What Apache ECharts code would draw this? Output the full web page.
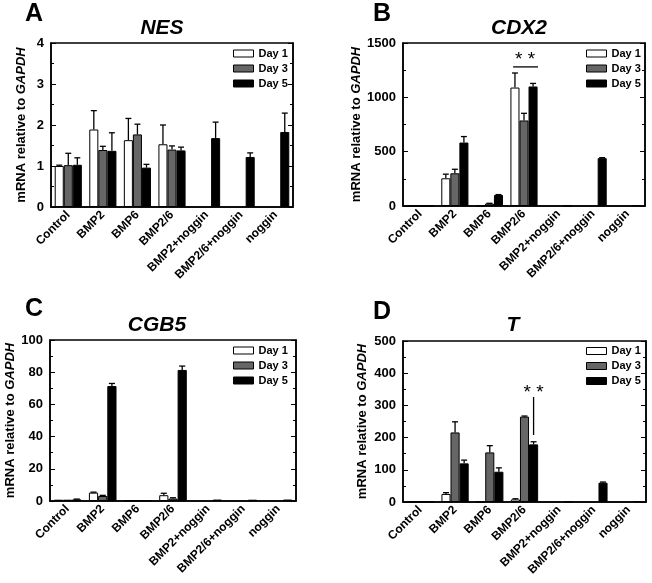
<!DOCTYPE html>
<html><head><meta charset="utf-8">
<script src="https://cdn.jsdelivr.net/npm/echarts@6/dist/echarts.min.js"></script>
<style>html,body{margin:0;padding:0;background:#fff}#c{width:652px;height:583px}</style>
</head><body><div id="c"></div>
<script>
// ---------- DATA ----------
const categories = ['Control','BMP2','BMP6','BMP2/6','BMP2+noggin','BMP2/6+noggin','noggin'];
const dayNames = ['Day 1','Day 3','Day 5'];

// A: NES
const nesDay1 = [1.00, 1.89, 1.63, 1.53, null, null, null];
const nesDay3 = [1.02, 1.39, 1.77, 1.40, null, null, null];
const nesDay5 = [1.03, 1.37, 0.96, 1.38, 1.68, 1.22, 1.83];
const nesErr1 = [0.02, 0.46, 0.53, 0.47, null, null, null];
const nesErr3 = [0.29, 0.09, 0.25, 0.09, null, null, null];
const nesErr5 = [0.17, 0.44, 0.08, 0.08, 0.39, 0.10, 0.46];

// B: CDX2
const cdxDay1 = [1, 255, 3, 1090, null, null, null];
const cdxDay3 = [1, 301, 22, 787, null, null, null];
const cdxDay5 = [1, 584, 101, 1100, 1, 440, 5];
const cdxErr1 = [0, 38, 0, 134, null, null, null];
const cdxErr3 = [0, 37, 3, 66, null, null, null];
const cdxErr5 = [0, 55, 4, 28, 0, 5, 0];

// C: CGB5
const cgbDay1 = [0.8, 5.2, 0.3, 3.6, null, null, null];
const cgbDay3 = [0.8, 3.1, 0.3, 1.5, null, null, null];
const cgbDay5 = [1.0, 71.4, 0.5, 81.4, 0.9, 0.8, 0.9];
const cgbErr1 = [0, 0.3, 0, 1.2, null, null, null];
const cgbErr3 = [0, 0.4, 0, 0.5, null, null, null];
const cgbErr5 = [0.2, 1.6, 0, 2.4, 0, 0, 0];

// D: T
const tDay1 = [1, 25, 1, 8, null, null, null];
const tDay3 = [1, 216, 154, 265, null, null, null];
const tDay5 = [1, 120, 94, 179, 2, 60, 2];
const tErr1 = [0, 4, 0, 2, null, null, null];
const tErr3 = [0, 33, 21, 2, null, null, null];
const tErr5 = [0, 10, 12, 8, 0, 2, 0];

// y-axis tick settings per panel
const yMaxA = 4,    yStepA = 1;
const yMaxB = 1500, yStepB = 500;
const yMaxC = 100,  yStepC = 20;
const yMaxD = 500,  yStepD = 100;

// significance annotations (category, values)
const sigB = {cat: 'BMP2/6', lineVal: 1280, textVal: 1345};
const sigD = {cat: 'BMP2/6', fromVal: 208, toVal: 326, textVal: 340};

// ---------- CHART ----------
const FONT = '"Liberation Sans", Arial, sans-serif';
const CAT_GAP = 0.215;
const colors = ['#ffffff', '#666666', '#000000'];

const panels = [
  {title: 'NES',  letter: 'A', means: [nesDay1, nesDay3, nesDay5], errs: [nesErr1, nesErr3, nesErr5], max: yMaxA, step: yStepA,
   grid: {left: 51, top: 43, width: 242, height: 164}, nameGap: 23, legend: {left: 233, top: 46.5},
   titlePos: [162, 28], letterPos: [25, 14]},
  {title: 'CDX2', letter: 'B', means: [cdxDay1, cdxDay3, cdxDay5], errs: [cdxErr1, cdxErr3, cdxErr5], max: yMaxB, step: yStepB,
   grid: {left: 403, top: 43, width: 242, height: 163}, nameGap: 39, legend: {left: 586, top: 46.5},
   titlePos: [519, 28], letterPos: [373, 14]},
  {title: 'CGB5', letter: 'C', means: [cgbDay1, cgbDay3, cgbDay5], errs: [cgbErr1, cgbErr3, cgbErr5], max: yMaxC, step: yStepC,
   grid: {left: 50, top: 340, width: 246, height: 161}, nameGap: 33, legend: {left: 233, top: 343.5},
   titlePos: [157, 325.5], letterPos: [25, 309]},
  {title: 'T',    letter: 'D', means: [tDay1, tDay3, tDay5], errs: [tErr1, tErr3, tErr5], max: yMaxD, step: yStepD,
   grid: {left: 403, top: 341, width: 243, height: 161}, nameGap: 34, legend: {left: 586, top: 344},
   titlePos: [513, 325], letterPos: [373, 312]}
];

function errRender(k) {
  return function (params, api) {
    const ci = api.value(0), mean = api.value(1), e = api.value(2);
    const band = api.size([1, 0])[0];
    const bw = band * (1 - CAT_GAP) / 3;
    const base = api.coord([ci, mean]);
    const top = api.coord([ci, mean + e]);
    const x = base[0] + (k - 1) * bw;
    const cap = bw * 0.33;
    return {type: 'group', children: [
      {type: 'line', shape: {x1: x, y1: base[1], x2: x, y2: top[1]}, style: {stroke: '#000', lineWidth: 1.3}},
      {type: 'line', shape: {x1: x - cap, y1: top[1], x2: x + cap, y2: top[1]}, style: {stroke: '#000', lineWidth: 1.3}}
    ]};
  };
}

const option = {
  animation: false,
  backgroundColor: '#fff',
  grid: [], xAxis: [], yAxis: [], series: [], legend: [], graphic: []
};

panels.forEach((p, i) => {
  option.grid.push(Object.assign({show: true, borderColor: '#000', borderWidth: 1.5, backgroundColor: 'transparent'}, p.grid));
  option.xAxis.push({
    gridIndex: i, type: 'category', data: categories,
    axisTick: {show: false},
    axisLine: {lineStyle: {color: '#000', width: 1.5}},
    axisLabel: {interval: 0, rotate: 45, margin: 6, color: '#000', fontFamily: FONT, fontWeight: 'bold', fontSize: 12}
  });
  const yBase = {
    gridIndex: i, type: 'value', min: 0, max: p.max, interval: p.step,
    axisLine: {show: true, lineStyle: {color: '#000', width: 1.5}},
    axisTick: {show: true, inside: true, length: 5, lineStyle: {color: '#000', width: 1}},
    minorTick: {show: true, splitNumber: 2, length: 3, lineStyle: {color: '#000', width: 1}},
    splitLine: {show: false}
  };
  option.yAxis.push(Object.assign({}, yBase, {
    position: 'left',
    axisLabel: {margin: 7, color: '#000', fontFamily: FONT, fontWeight: 'bold', fontSize: 13,
      formatter: v => String(v)},
    name: '{n|mRNA relative to }{i|GAPDH}', nameLocation: 'middle', nameGap: p.nameGap, nameRotate: 90,
    nameTextStyle: {rich: {
      n: {fontFamily: FONT, fontWeight: 'bold', fontSize: 13, color: '#000'},
      i: {fontFamily: FONT, fontWeight: 'bold', fontStyle: 'italic', fontSize: 13, color: '#000'}
    }}
  }));
  option.yAxis.push(Object.assign({}, yBase, {position: 'right', axisLabel: {show: false}}));

  p.means.forEach((arr, k) => {
    option.series.push({
      type: 'bar', name: dayNames[k], xAxisIndex: i, yAxisIndex: 2 * i,
      data: arr, barGap: '0%', barCategoryGap: (CAT_GAP * 100) + '%',
      itemStyle: {color: colors[k], borderColor: '#000', borderWidth: 1}
    });
  });
  p.means.forEach((arr, k) => {
    const d = [];
    arr.forEach((m, ci) => { if (m !== null && p.errs[k][ci]) d.push([ci, m, p.errs[k][ci]]); });
    option.series.push({
      type: 'custom', name: 'err' + k, xAxisIndex: i, yAxisIndex: 2 * i, z: 5,
      renderItem: errRender(k), data: d, encode: {x: 0, y: 1}, silent: true
    });
  });

  option.legend.push({
    data: dayNames, orient: 'vertical', left: p.legend.left, top: p.legend.top, padding: 0,
    itemWidth: 20, itemHeight: 7, itemGap: 1, icon: 'rect',
    textStyle: {fontFamily: FONT, fontWeight: 'bold', fontSize: 11, color: '#000', lineHeight: 14},
    itemStyle: {borderColor: '#000', borderWidth: 1}
  });

  option.graphic.push({type: 'text', x: p.titlePos[0], y: p.titlePos[1],
    style: {text: p.title, fontFamily: FONT, fontWeight: 'bold', fontStyle: 'italic', fontSize: 21, fill: '#000',
      textAlign: 'center', textVerticalAlign: 'middle'}});
  option.graphic.push({type: 'text', x: p.letterPos[0], y: p.letterPos[1],
    style: {text: p.letter, fontFamily: FONT, fontWeight: 'bold', fontSize: 25, fill: '#000',
      textAlign: 'left', textVerticalAlign: 'middle'}});
});

const chart = echarts.init(document.getElementById('c'), null, {renderer: 'canvas'});
chart.setOption(option);

// significance annotations, positioned through the axes
function px(gi, cat, val) {
  return chart.convertToPixel({xAxisIndex: gi, yAxisIndex: 2 * gi}, [cat, val]);
}
const extra = [];
{
  const ci = categories.indexOf(sigB.cat);
  const band = px(1, 1, 0)[0] - px(1, 0, 0)[0];
  const bw = band * (1 - CAT_GAP) / 3;
  const l = px(1, ci, sigB.lineVal), t = px(1, ci, sigB.textVal);
  extra.push({type: 'line', shape: {x1: l[0] - 1.2 * bw, y1: l[1], x2: l[0] + 1.55 * bw, y2: l[1]}, style: {stroke: '#000', lineWidth: 1.3}});
  extra.push({type: 'text', x: t[0] + 1, y: t[1], style: {text: '* *', fontFamily: FONT, fontSize: 19, fill: '#000', textAlign: 'center', textVerticalAlign: 'middle'}});
}
{
  const ci = categories.indexOf(sigD.cat);
  const band3 = px(3, 1, 0)[0] - px(3, 0, 0)[0];
  const bw3 = band3 * (1 - CAT_GAP) / 3;
  const a = px(3, ci, sigD.fromVal), b = px(3, ci, sigD.toVal), t = px(3, ci, sigD.textVal);
  extra.push({type: 'line', shape: {x1: a[0] + bw3, y1: a[1], x2: b[0] + bw3, y2: b[1]}, style: {stroke: '#000', lineWidth: 1.3}});
  extra.push({type: 'text', x: t[0] + bw3, y: t[1], style: {text: '* *', fontFamily: FONT, fontSize: 19, fill: '#000', textAlign: 'center', textVerticalAlign: 'middle'}});
}
chart.setOption({graphic: option.graphic.concat(extra)});
</script>
</body></html>
